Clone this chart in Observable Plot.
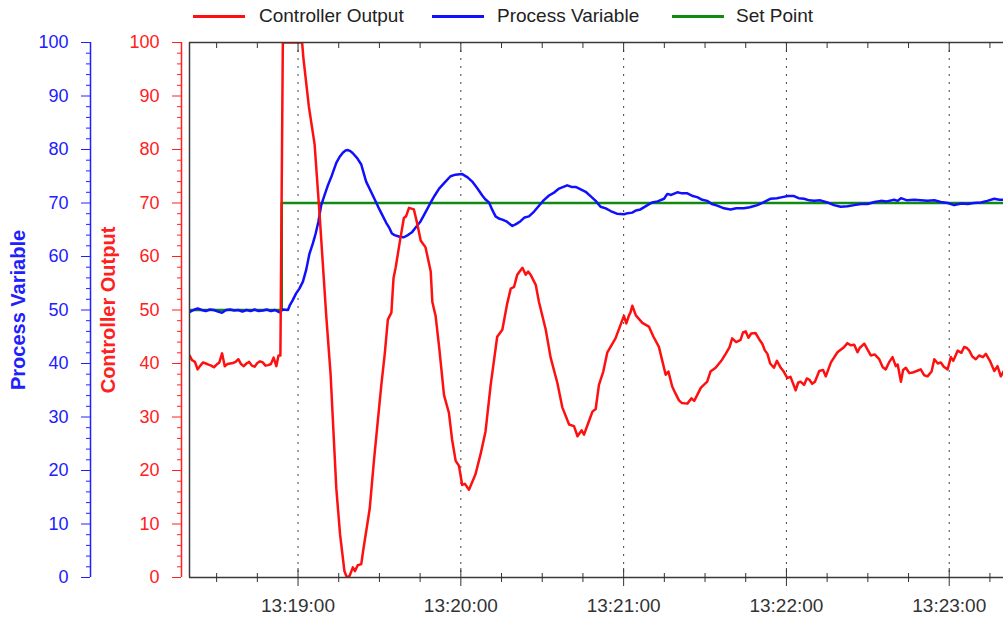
<!DOCTYPE html>
<html><head><meta charset="utf-8">
<script src="https://cdn.jsdelivr.net/npm/d3@7"></script>
<script src="https://cdn.jsdelivr.net/npm/@observablehq/plot@0.6"></script>
<style>
body{margin:0;background:#fff;font-family:"Liberation Sans",Arial,sans-serif;}
#wrap{position:relative;width:1003px;height:622px;overflow:hidden;}
#chart{position:absolute;left:0;top:0;}
.lgt{position:absolute;top:4px;font-size:19px;line-height:24px;color:#222;white-space:nowrap;}
.lgl{position:absolute;top:15px;height:3px;width:52px;}
</style></head><body>
<div id="wrap"><div id="chart"></div><div id="legend"></div></div>
<script>
// ---- data ----
const seriesNames = ["Controller Output", "Process Variable", "Set Point"];
const seriesColors = ["#ff1010", "#1010ff", "#108a10"];
const domainStart = "13:18:20";
const domainEnd = "13:23:20";
const xTickLabels = ["13:19:00", "13:20:00", "13:21:00", "13:22:00", "13:23:00"];
const yTicks = [0, 10, 20, 30, 40, 50, 60, 70, 80, 90, 100];

// seconds after 13:18:20
const coSeconds = [0,1,2,3,4,5,6,7,8,9,10,11,12,13,14,15,16,17,18,19,20,21,22,23,24,25,26,27,28,29,30,31,32,32.8,33.5,34.4,41.5,42,44,46.1,47.9,50.4,52,54.1,55.5,57.1,58,59,60.2,61,62,63.3,64,66.4,68,70.7,72,73.1,74.4,75.2,76,77.4,79,79.8,80.9,82.7,84,85.2,87,88.9,89.5,90.7,92,93.8,95.6,96.8,98.1,99.3,100.5,101.5,103,105.4,107.3,109.1,111,113.4,115.3,117,118.4,119.6,120.8,122.7,123.9,124.8,125.7,127.6,128.8,131.3,133.1,135.6,137.4,139.9,141.7,143,144.5,145.4,147.2,148.5,149.7,150.9,152.5,154,157,160.1,161,161.9,162.5,163.2,164.5,166.9,169.3,171,173,174,175.5,176.5,177.9,179,180.4,181.5,183.5,185,186,187.1,188.5,190.8,192,193.9,196,197.6,199,200,201.5,203.1,204,205,206,207,208.6,210,211.1,212,213,214,215.4,216.5,217.9,219,220.3,221.5,223.4,224.3,225.2,226.5,227.5,228.4,229.5,230.5,232.1,233.5,234.5,236.4,238.8,241.3,242.5,243.7,245,246.2,247,248.7,250,251.1,252.5,254.2,255.5,256.6,257.8,259.1,260.3,261,262.2,263,264,265.3,266.5,268,269.5,270.8,272,273.5,274.5,275.8,276.9,278,279.4,280.6,281.5,283.1,284.5,285.5,286.5,287.4,288.5,289.8,291,292.4,293.5,295,296.6,297.8,299,300];
const coValues = [41.5,40.6,40.3,38.9,39.6,40.2,40.0,39.8,39.6,39.3,39.8,40.2,41.9,39.5,39.9,40.0,40.1,40.3,40.8,39.9,39.5,40.0,40.3,39.6,39.4,40.1,40.4,40.2,39.6,39.7,39.9,41.1,39.5,41.5,41.5,100,100,97,88,81,68.2,48.9,38,16.7,8,1.2,0,0.3,1.9,1.2,2.3,2.5,5,12.8,22,36,42,48.2,49.5,56,58,62.4,67.2,67.5,69.1,68.8,66,63.0,61.7,57.2,51.5,48.9,43.1,34.1,30.8,25.7,21.8,20.9,17.3,17.5,16.4,19.3,23.1,27.3,36.0,45.0,46.3,51,54.0,54.3,56.6,57.9,56.6,57.2,56.6,54.7,51.5,46.3,41.1,36.3,31.8,28.6,28.3,26.4,27.5,26.7,29.2,31,31.5,36.0,38.5,42.1,44.7,48.9,47.5,48.9,49.5,50.8,49,47.6,46.9,45,43.1,41,37.9,38.5,35.7,34.5,33.1,32.6,32.5,33.5,33,34.1,35.5,36.6,38.5,39.2,40.5,41.8,43,44.7,44,44.4,45.8,46.0,44.8,45.6,45.7,44.5,43.7,42.5,41.8,40,39.2,40.5,39.2,38.5,37.3,37.5,35.0,36.4,36.6,36.0,37.2,37.0,36.2,36.6,38.6,38.8,37.6,40.2,42.1,43.1,43.8,43.4,43.5,42.1,42.9,43.7,42.5,41.5,41.7,40.8,39.3,38.9,40.2,41.2,39.5,39.8,36.6,38.8,39.2,38.2,38.3,38.6,38.9,37.8,37.6,38.5,40.8,40.0,40.2,39.4,38.9,41.2,40.5,42.4,42.0,43.1,42.9,42.4,41.3,40.8,41.5,41.2,41.8,40.5,38.6,39.5,37.6,38.5];

const pvSeconds = [0,1.5,3,4.5,6,7.5,9,10.5,12,13.5,15,16.5,18,19.5,21,22.5,24,25.5,27,28.5,30,31.5,33,34.5,36.3,36.9,38,39.3,40.5,41.8,43,44.2,45.5,46.5,47.5,48.5,49.8,51,52.5,54.1,55.3,56.5,57.5,58.4,59.3,60.2,61.8,63.3,64.2,65.1,67,68.8,70,71.3,72.5,73.7,74.6,75.6,77.4,79,80.5,82.1,83.5,85.2,87,88.9,90.5,92,94,96.2,98,100.5,102.5,104.2,106,107.9,109,110.4,111.5,112.8,114,115.3,117,119,120.5,122,123.5,125.1,127,128.8,130.5,132.5,134.5,136.2,137.8,139.2,140.8,142.3,144,146,148,149.7,151.5,153.4,155.2,157.5,160.1,161.5,163.2,164.5,166.2,168.5,170.5,172.5,174.9,176.1,177.5,179.8,181.5,183.5,185.5,187.1,189,190.8,192.5,194.5,197,199.4,201.5,204.3,206.5,209.3,211.5,214.2,216.5,218.5,220.5,222.8,224.5,226.5,228.4,230.2,232.5,235.1,237.5,240,242.5,245,247.5,249.9,252.5,254.8,257,259.7,261,262.2,264.5,267.1,269.5,272,274.5,276.9,279.5,281.8,284.5,286.8,289,291.7,294,296.6,298.5,300.1];
const pvValues = [49.6,50.0,50.3,50.0,49.8,50.1,50.0,49.7,49.5,50.0,50.1,49.9,50.0,49.7,50.0,49.8,50.1,49.8,49.9,50.1,49.8,50.0,49.6,50.1,50.0,50.8,51.8,53.1,54,55.3,57.5,60.5,62.5,64.3,66.5,69.5,71.5,73.3,75.2,77.5,78.6,79.4,79.8,79.9,79.7,79.3,78.4,77.2,75.6,74.0,72,70.1,68.8,67.5,66.3,65.3,64.3,64.0,63.7,63.6,64.0,64.6,65.5,66.6,68.3,70.1,71.5,72.7,73.8,75.0,75.3,75.4,74.8,74.0,72.8,71.4,70.7,70.1,68.8,67.5,67.1,66.9,66.5,65.7,66.1,66.6,67.3,67.5,68.4,69.5,70.5,71.4,72.0,72.7,73.0,73.3,73.0,73.0,72.6,72.1,71.2,70.4,69.3,69.0,68.5,68.0,67.9,68.1,68.2,68.6,68.8,69.5,70.1,70.3,70.8,71.7,71.5,72.0,71.8,71.8,71.3,71.1,70.6,70.4,69.8,69.5,69.0,68.8,69.0,69.0,69.2,69.6,70.1,70.8,70.9,71.1,71.3,71.3,70.9,70.8,70.5,70.4,70.5,70.1,69.6,69.3,69.4,69.6,69.8,69.8,70.2,70.4,70.3,70.6,70.4,70.9,70.5,70.6,70.5,70.4,70.5,70.2,70.0,69.6,69.9,69.8,70.0,70.1,70.4,70.8,70.6,70.6];

const spSeconds = [0, 34, 34, 300];
const spValues = [50, 50, 70, 70];

// ---- build ----
const parse = d3.timeParse("%H:%M:%S");
const fmt = d3.timeFormat("%H:%M:%S");
const t0 = parse(domainStart), t1 = parse(domainEnd);
const toDate = s => new Date(t0.getTime() + s * 1000);
const rows = (secs, vals) => secs.map((s, i) => ({time: toDate(s), value: vals[i]}));
const co = rows(coSeconds, coValues);
const pv = rows(pvSeconds, pvValues);
const sp = rows(spSeconds, spValues);
const xMajor = xTickLabels.map(parse);
const xMinor = d3.timeSecond.every(15).range(t0, t1)
  .filter(d => !xMajor.some(m => +m === +d));
const yMinor = d3.range(0, 101, 2).filter(v => v % 10 !== 0);

const frameColor = "#3a3a3a";
const redAxis = "#ff2020", blueAxis = "#2020ff";
const FONT = '"Liberation Sans", Arial, sans-serif';

const chart = Plot.plot({
  width: 1003, height: 622,
  marginTop: 42, marginBottom: 45, marginLeft: 189, marginRight: 0,
  style: {fontFamily: FONT, background: "transparent", overflow: "visible"},
  x: {type: "time", domain: [t0, t1], label: null},
  y: {domain: [0, 100], label: null},
  marks: [
    Plot.gridX(xMajor, {stroke: "#444", strokeOpacity: 1, strokeWidth: 1, strokeDasharray: "2,6"}),
    Plot.line(sp, {x: "time", y: "value", stroke: seriesColors[2], strokeWidth: 2.5, clip: true}),
    Plot.line(pv, {x: "time", y: "value", stroke: seriesColors[1], strokeWidth: 2.5, clip: true}),
    Plot.line(co, {x: "time", y: "value", stroke: seriesColors[0], strokeWidth: 2.5, clip: true}),
    // frame (top, bottom, left)
    Plot.ruleY([0, 100], {stroke: frameColor, strokeWidth: 1.5}),
    Plot.ruleX([t0], {stroke: frameColor, strokeWidth: 1.5}),
    // x axis bottom
    Plot.axisX(xMajor, {anchor: "bottom", tickFormat: fmt, tickSize: 9, tickPadding: 12, fontSize: 19, color: "#333", label: null}),
    Plot.axisX(xMajor, {anchor: "bottom", tickSize: 9, dy: -9, text: null, color: "#333", label: null}),
    Plot.axisX(xMinor, {anchor: "bottom", tickSize: 5, text: null, color: "#333", label: null}),
    Plot.axisX(xMinor, {anchor: "bottom", tickSize: 4, dy: -4, text: null, color: "#333", label: null}),
    // x axis top (inward ticks)
    Plot.axisX(xMajor, {anchor: "top", tickSize: 9, dy: 9, text: null, color: "#333", label: null}),
    Plot.axisX(xMinor, {anchor: "top", tickSize: 5, dy: 5, text: null, color: "#333", label: null}),
    // Controller Output axis (red)
    Plot.ruleX([t0], {y1: 0, y2: 100, dx: -8, stroke: redAxis, strokeWidth: 1.5}),
    Plot.axisY(yTicks, {anchor: "left", dx: -8, tickSize: 9, tickPadding: 13, fontSize: 18, color: redAxis, label: null}),
    Plot.axisY(yMinor, {anchor: "left", dx: -8, tickSize: 4, text: null, color: redAxis, label: null}),
    // Process Variable axis (blue)
    Plot.ruleX([t0], {y1: 0, y2: 100, dx: -99, stroke: blueAxis, strokeWidth: 1.5}),
    Plot.axisY(yTicks, {anchor: "left", dx: -99, tickSize: 9, tickPadding: 13, fontSize: 18, color: blueAxis, label: null}),
    Plot.axisY(yMinor, {anchor: "left", dx: -99, tickSize: 4, text: null, color: blueAxis, label: null}),
    // axis titles
    Plot.text([seriesNames[1]], {text: d => d, frameAnchor: "left", textAnchor: "middle", dx: -171, rotate: -90, fontSize: 20, fontWeight: "bold", fill: blueAxis}),
    Plot.text([seriesNames[0]], {text: d => d, frameAnchor: "left", textAnchor: "middle", dx: -81, rotate: -90, fontSize: 20, fontWeight: "bold", fill: redAxis})
  ]
});
document.getElementById("chart").appendChild(chart);

// legend
const legendLineLeft = [193, 432, 672];
const legendTextLeft = [259, 497, 736];
const lg = document.getElementById("legend");
seriesNames.forEach((name, i) => {
  const l = document.createElement("div");
  l.className = "lgl"; l.style.left = legendLineLeft[i] + "px"; l.style.background = seriesColors[i];
  lg.appendChild(l);
  const t = document.createElement("div");
  t.className = "lgt"; t.style.left = legendTextLeft[i] + "px"; t.textContent = name;
  lg.appendChild(t);
});
</script>
</body></html>
